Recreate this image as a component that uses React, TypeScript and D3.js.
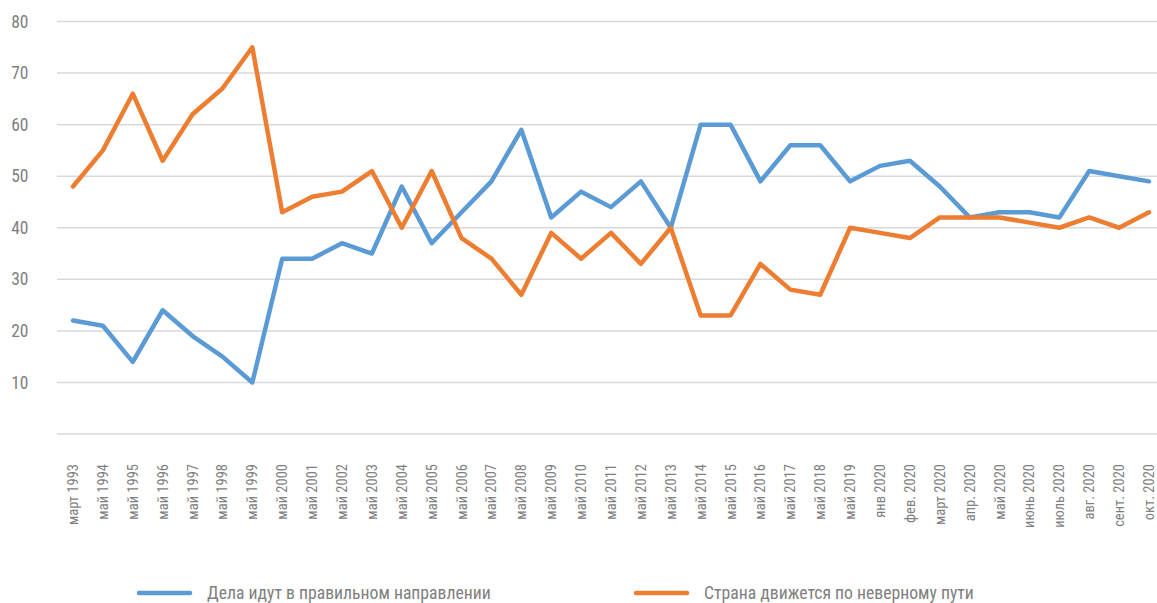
import React from "react";
import * as d3 from "d3";

const categories = [
  "март 1993", "май 1994", "май 1995", "май 1996", "май 1997", "май 1998", "май 1999",
  "май 2000", "май 2001", "май 2002", "май 2003", "май 2004", "май 2005", "май 2006",
  "май 2007", "май 2008", "май 2009", "май 2010", "май 2011", "май 2012", "май 2013",
  "май 2014", "май 2015", "май 2016", "май 2017", "май 2018", "май 2019",
  "янв 2020", "фев. 2020", "март 2020", "апр. 2020", "май 2020", "июнь 2020",
  "июль 2020", "авг. 2020", "сент. 2020", "окт. 2020",
];

const rightDirection = [
  22, 21, 14, 24, 19, 15, 10,
  34, 34, 37, 35, 48, 37, 43, 49, 59, 42, 47, 44, 49, 40, 60, 60, 49, 56, 56, 49,
  52, 53, 48, 42, 43, 43, 42, 51, 50, 49,
];

const wrongPath = [
  48, 55, 66, 53, 62, 67, 75,
  43, 46, 47, 51, 40, 51, 38, 34, 27, 39, 34, 39, 33, 40, 23, 23, 33, 28, 27, 40,
  39, 38, 42, 42, 42, 41, 40, 42, 40, 43,
];

const yTicks = [0, 10, 20, 30, 40, 50, 60, 70, 80];

const seriesNames = ["Дела идут в правильном направлении", "Страна движется по неверному пути"];

const W = 1157;
const H = 603;
const FONT = "'Liberation Sans Narrow', 'Roboto Condensed', 'Arial Narrow', Roboto, sans-serif";
const TEXT = "#7f7f7f";

export default function App() {
  const x = d3.scalePoint<string>().domain(categories).range([73, 1149]);
  const y = d3.scaleLinear().domain([0, 80]).range([434, 21.5]);
  const line = d3
    .line<number>()
    .x((_, i) => x(categories[i]) as number)
    .y((d) => y(d));

  const series = [
    { name: seriesNames[0], values: rightDirection, color: "#5b9bd5" },
    { name: seriesNames[1], values: wrongPath, color: "#ed7d31" },
  ];
  const legendX = [139, 636];

  return (
    <svg
      width={W}
      height={H}
      style={{ position: "absolute", left: 0, top: 0, fontFamily: FONT }}
    >
      {yTicks.map((t) => (
        <g key={t}>
          <line x1={57} x2={W} y1={y(t)} y2={y(t)} stroke="#d9d9d9" strokeWidth={1.5} />
          {t > 0 && (
            <text x={28.5} y={y(t)} dy="0.35em" textAnchor="end" fontSize={17.5} fill={TEXT}>
              {t}
            </text>
          )}
        </g>
      ))}
      {categories.map((c) => (
        <text
          key={c}
          transform={`translate(${(x(c) as number) + 5},${464}) rotate(-90)`}
          textAnchor="end"
          fontSize={14.5}
          fill={TEXT}
        >
          {c}
        </text>
      ))}
      {series.map((s) => (
        <path
          key={s.name}
          d={line(s.values) || ""}
          fill="none"
          stroke={s.color}
          strokeWidth={4.5}
          strokeLinejoin="round"
          strokeLinecap="round"
        />
      ))}
      {series.map((s, i) => (
        <g key={s.name} transform={`translate(${legendX[i]},593)`}>
          <line x1={0} x2={51} y1={0} y2={0} stroke={s.color} strokeWidth={4.5} strokeLinecap="round" />
          <text x={68} y={0} dy="0.35em" fontSize={17.7} fill={TEXT}>
            {s.name}
          </text>
        </g>
      ))}
    </svg>
  );
}
